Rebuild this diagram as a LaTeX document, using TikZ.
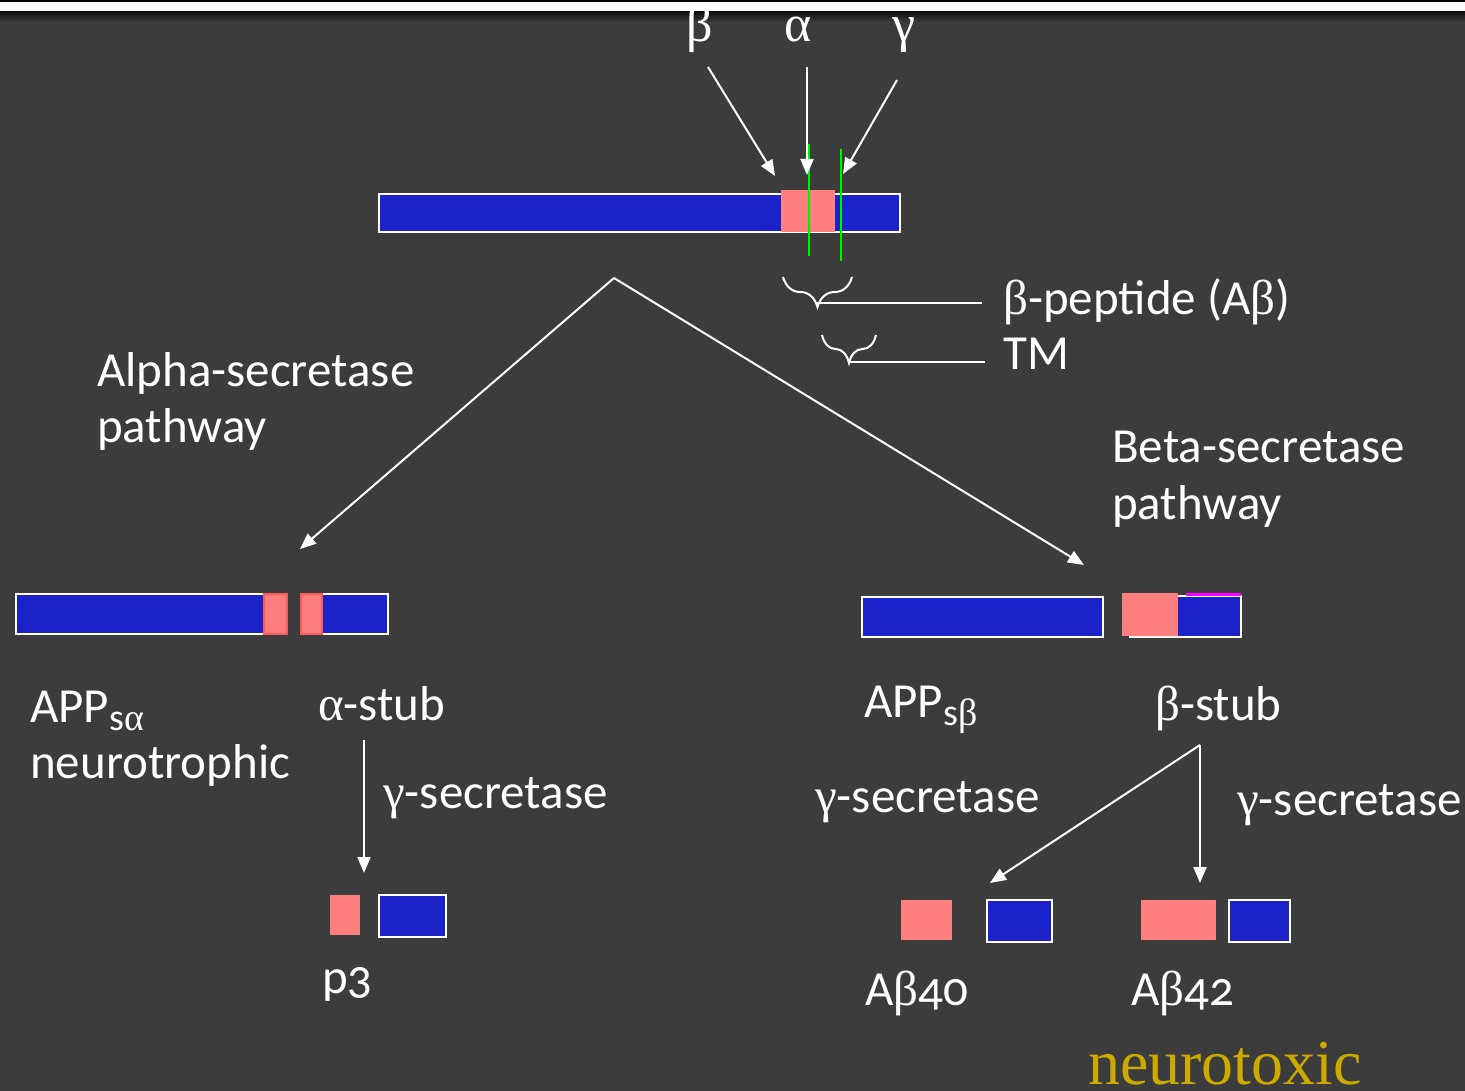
\documentclass[tikz,border=0pt]{standalone}
\usepackage{fontspec}
\setmainfont{Carlito}[Numbers=OldStyle]
\newfontfamily\grk{Liberation Serif}
\newfontfamily\tms{Liberation Serif}
\usetikzlibrary{arrows.meta,decorations.pathreplacing}
\definecolor{bg}{HTML}{3C3C3C}
\definecolor{barblue}{HTML}{1A22C8}
\definecolor{pinkc}{HTML}{FF7F7F}
\definecolor{redc}{HTML}{FF5A5A}
\definecolor{greenc}{HTML}{00F000}
\definecolor{goldc}{HTML}{CCAA00}
\definecolor{magc}{HTML}{FF00FF}
\newcommand\G[1]{{\grk #1}}
\newcommand\subs[1]{\raisebox{-8pt}{\fontsize{38}{38}\selectfont #1}}
\tikzset{
  bluebox/.style={draw=white, line width=2pt, fill=barblue, inner sep=0pt, outer sep=0pt, anchor=north west},
  pinkbox/.style={fill=pinkc, draw=none, inner sep=0pt, outer sep=0pt, anchor=north west},
  pinkred/.style={fill=pinkc, draw=redc, line width=1.5pt, inner sep=0pt, outer sep=0pt, anchor=north west},
  txt/.style={text=white, font=\fontsize{49}{56}\selectfont, inner sep=0pt, anchor=base west},
  grtxt/.style={text=white, font=\grk\fontsize{52}{56}\selectfont, inner sep=0pt, anchor=base},
  arr/.style={draw=white, line width=2pt, -{Triangle[length=16pt,width=13pt]}},
  wline/.style={draw=white, line width=2pt},
  gline/.style={draw=greenc, line width=2.5pt},
  bracestyle/.style={draw=white, line width=2pt, decorate, decoration={brace, mirror, amplitude=#1}},
}
\begin{document}
\begin{tikzpicture}[x=1pt,y=-1pt]
% background
\fill[bg] (0,0) rectangle (1465,1091);
\useasboundingbox (0,0) rectangle (1465,1091);
\fill[black] (0,0) rectangle (1465,2);
\fill[white] (0,2) rectangle (1465,12);
\shade[top color=black!75!bg, bottom color=bg] (0,12) rectangle (1465,22);

% main APP bar
\node[bluebox, minimum width=521pt, minimum height=38pt] (app) at (379,194) {};
\node[pinkbox, minimum width=54pt, minimum height=42pt] (abeta) at (781,190) {};
\draw[gline] (809,144) -- (809,256);
\draw[gline] (841,149) -- (841,261);

% cleavage labels
\node[grtxt] (lbeta) at (700,42) {β};
\node[grtxt] (lalpha) at (798,42) {α};
\node[grtxt] (lgamma) at (904,42) {γ};
\coordinate (bs) at (708,67);
\coordinate (be) at (775,176);
\coordinate (as) at (807,67);
\coordinate (ae) at (807,175);
\coordinate (gs) at (897,80);
\coordinate (ge) at (843,174);
\draw[arr] (bs) -- (be);
\draw[arr] (as) -- (ae);
\draw[arr] (gs) -- (ge);

% braces
\coordinate (b1l) at (783,277);
\coordinate (b1r) at (852,277);
\coordinate (b1t) at (817,303);
\coordinate (b1e) at (982,303);
\draw[bracestyle=30pt] (b1l) -- (b1r);
\draw[wline] (b1t) -- (b1e);
\coordinate (b2l) at (822,335);
\coordinate (b2r) at (876,335);
\coordinate (b2t) at (848,362);
\coordinate (b2e) at (985,362);
\draw[bracestyle=28pt] (b2l) -- (b2r);
\draw[wline] (b2t) -- (b2e);
\node[txt] (pep) at (1003,315) {\G{β}-peptide (A\G{β})};
\node[txt] (tm) at (1003,370) {TM};

% V arrows
\coordinate (apex) at (614,278);
\coordinate (lv) at (300,549);
\coordinate (rv) at (1084,565);
\draw[arr] (apex) -- (lv);
\draw[arr] (apex) -- (rv);
\node[txt] (alp1) at (97,386) {Alpha-secretase};
\node[txt] (alp2) at (97,442) {pathway};
\node[txt] (bet1) at (1112,462) {Beta-secretase};
\node[txt] (bet2) at (1112,519) {pathway};

% alpha pathway products
\node[bluebox, minimum width=271pt, minimum height=40pt] (appsa) at (16,594) {};
\node[pinkred, minimum width=23pt, minimum height=40pt] (pa1) at (264,594) {};
\node[bluebox, minimum width=87pt, minimum height=40pt] (astub) at (301,594) {};
\node[pinkred, minimum width=21pt, minimum height=40pt] (pa2) at (301,594) {};
\node[txt] (lappsa) at (30,722) {APP\subs{s\G{α}}};
\node[txt] (lneuro) at (30,778) {neurotrophic};
\node[txt] (lastub) at (318,720) {\G{α}-stub};
\coordinate (as1) at (364,740);
\coordinate (as2) at (364,873);
\draw[arr] (as1) -- (as2);
\node[txt] (lg1) at (383,808) {\G{γ}-secretase};
\node[pinkbox, minimum width=30pt, minimum height=40pt] (p3p) at (330,895) {};
\node[bluebox, minimum width=67pt, minimum height=42pt] (p3b) at (379,895) {};
\node[txt] (lp3) at (322,993) {p3};

% beta pathway products
\node[bluebox, minimum width=241pt, minimum height=40pt] (appsb) at (862,597) {};
\node[bluebox, minimum width=111pt, minimum height=41pt] (bstub) at (1130,596) {};
\draw[magc, line width=3pt] (1186,594) -- (1241,594);
\node[pinkbox, minimum width=56pt, minimum height=43pt] (pb) at (1122,593) {};
\node[txt] (lappsb) at (864,717) {APP\subs{s\G{β}}};
\node[txt] (lbstub) at (1155,720) {\G{β}-stub};
\coordinate (bsa) at (1200,745);
\coordinate (bsl) at (990,883);
\coordinate (bsd) at (1200,883);
\draw[arr] (bsa) -- (bsl);
\draw[arr] (bsa) -- (bsd);
\node[txt] (lg2) at (815,812) {\G{γ}-secretase};
\node[txt] (lg3) at (1237,815) {\G{γ}-secretase};
\node[pinkbox, minimum width=51pt, minimum height=40pt] (a40p) at (901,900) {};
\node[bluebox, minimum width=65pt, minimum height=42pt] (a40b) at (987,900) {};
\node[pinkbox, minimum width=75pt, minimum height=40pt] (a42p) at (1141,900) {};
\node[bluebox, minimum width=61pt, minimum height=42pt] (a42b) at (1229,900) {};
\node[txt] (l40) at (865,1005) {A\G{β}40};
\node[txt] (l42) at (1131,1005) {A\G{β}42};
\node[text=goldc, font=\tms\fontsize{64}{64}\selectfont, inner sep=0pt, text depth=0pt, anchor=base west] (ntox) at (1088,1084) {neurotoxic};
\end{tikzpicture}
\end{document}
